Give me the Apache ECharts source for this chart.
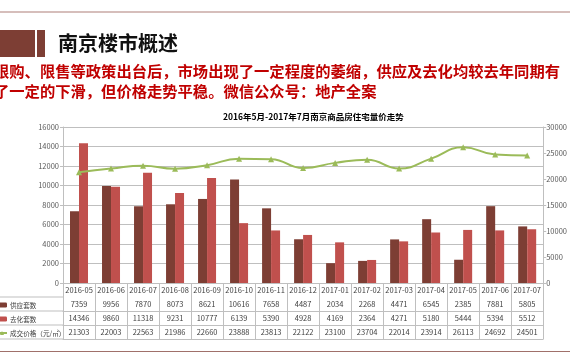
<!DOCTYPE html>
<html><head><meta charset="utf-8">
<script src="https://cdn.jsdelivr.net/npm/echarts@6/dist/echarts.min.js"></script>
<style>html,body{margin:0;padding:0;background:#fff}#c{width:570px;height:360px}</style>
</head><body><div id="c"></div>
<script>
const categories = ['2016-05','2016-06','2016-07','2016-08','2016-09','2016-10','2016-11','2016-12','2017-01','2017-02','2017-03','2017-04','2017-05','2017-06','2017-07'];
const supply = [7359, 9956, 7870, 8073, 8621, 10616, 7658, 4487, 2034, 2268, 4471, 6545, 2385, 7881, 5805];
const removal = [14346, 9860, 11318, 9231, 10777, 6139, 5390, 4928, 4169, 2364, 4271, 5180, 5444, 5394, 5512];
const price = [21303, 22003, 22563, 21986, 22660, 23888, 23813, 22122, 23100, 23704, 22014, 23914, 26113, 24692, 24501];
const seriesNames = ['供应套数', '去化套数', '成交价格（元/㎡）'];
const leftTicks = {min: 0, max: 16000, interval: 2000};
const rightTicks = {min: 0, max: 30000, interval: 5000};
const chartTitle = '2016年5月-2017年7月南京商品房住宅量价走势';
const pageTitle = '南京楼市概述';
const bodyLines = ['限购、限售等政策出台后，市场出现了一定程度的萎缩，供应及去化均较去年同期有', '了一定的下滑，但价格走势平稳。微信公众号：地产全案'];

const FONT = '"Noto Sans CJK SC", sans-serif';
const gridCol = '#bfbfbf';
const txt = '#404040';
const chart = echarts.init(document.getElementById('c'));

function tableAxis(data, offset, showLabel) {
  return {
    type: 'category', data: data.map(String), position: 'bottom', offset: offset,
    axisLine: {show: true, lineStyle: {color: gridCol, width: 1}},
    axisTick: {show: false},
    axisLabel: {show: showLabel, interval: 0, fontSize: 7.5, color: txt, margin: 3, fontFamily: FONT},
    splitLine: {show: false}
  };
}

chart.setOption({
  animation: false,
  title: {text: chartTitle, left: 223, top: 113, padding: 0, textStyle: {fontSize: 8.5, fontWeight: 'bold', color: '#000', fontFamily: FONT}},
  grid: {left: 63, right: 23, top: 127, bottom: 77},
  legend: {
    orient: 'vertical', left: -4, top: 300, padding: 0, itemWidth: 10, itemHeight: 5, itemGap: 4,
    textStyle: {fontSize: 6.6, color: txt, fontFamily: FONT, lineHeight: 10, padding: [0, 0, 0, -2]}, data: seriesNames
  },
  xAxis: [
    {
      type: 'category', data: categories, position: 'bottom',
      axisLine: {show: true, lineStyle: {color: gridCol}},
      axisTick: {show: true, interval: 0, length: 56, lineStyle: {color: gridCol}},
      axisLabel: {interval: 0, fontSize: 7.5, color: txt, margin: 3, fontFamily: FONT}
    },
    tableAxis(supply, 14, true),
    tableAxis(removal, 28, true),
    tableAxis(price, 42, true),
    tableAxis(categories, 56, false)
  ],
  yAxis: [
    {
      type: 'value', min: leftTicks.min, max: leftTicks.max, interval: leftTicks.interval,
      axisLine: {show: true, lineStyle: {color: gridCol}},
      axisTick: {show: true, length: 3, lineStyle: {color: gridCol}},
      axisLabel: {fontSize: 7.5, color: '#595959', margin: 4, fontFamily: FONT, formatter: v => String(v)},
      splitLine: {lineStyle: {color: gridCol}}
    },
    {
      type: 'value', min: rightTicks.min, max: rightTicks.max, interval: rightTicks.interval,
      axisLine: {show: true, lineStyle: {color: gridCol}},
      axisTick: {show: true, length: 3, lineStyle: {color: gridCol}},
      axisLabel: {fontSize: 7.5, color: '#595959', margin: 3, fontFamily: FONT, formatter: v => String(v)},
      splitLine: {show: false}
    }
  ],
  series: [
    {name: seriesNames[0], type: 'bar', data: supply, barWidth: 9, barGap: '0%', itemStyle: {color: '#7d3e34'}},
    {name: seriesNames[1], type: 'bar', data: removal, barWidth: 9, barGap: '0%', itemStyle: {color: '#c0504d'}},
    {name: seriesNames[2], type: 'line', yAxisIndex: 1, data: price, smooth: true, symbol: 'triangle', symbolSize: 6,
     lineStyle: {color: '#9bbb59', width: 2}, itemStyle: {color: '#9bbb59'}}
  ],
  graphic: [
    {type: 'line', shape: {x1: 0, y1: 12, x2: 570, y2: 12}, style: {stroke: '#c8a8a4', lineWidth: 1.5}},
    {type: 'line', shape: {x1: 0, y1: 351.5, x2: 570, y2: 351.5}, style: {stroke: '#a0706a', lineWidth: 1}},
    {type: 'rect', shape: {x: 0, y: 30, width: 35, height: 27}, style: {fill: '#7d3e34'}},
    {type: 'rect', shape: {x: 37, y: 30, width: 8, height: 27}, style: {fill: '#7d3e34'}},
    {type: 'text', left: 58, top: 33, style: {text: pageTitle, fontSize: 20, fontWeight: 'bold', fill: '#111', fontFamily: FONT}},
    {type: 'text', x: -6, y: 64, style: {text: bodyLines[0], fontSize: 15.3, fontWeight: 'bold', fill: '#c00000', fontFamily: FONT}},
    {type: 'text', x: -6, y: 84, style: {text: bodyLines[1], fontSize: 15.3, fontWeight: 'bold', fill: '#c00000', fontFamily: FONT}},
    {type: 'line', shape: {x1: 0, y1: 297, x2: 63, y2: 297}, style: {stroke: gridCol, lineWidth: 1}},
    {type: 'line', shape: {x1: 0, y1: 311, x2: 63, y2: 311}, style: {stroke: gridCol, lineWidth: 1}},
    {type: 'line', shape: {x1: 0, y1: 325, x2: 63, y2: 325}, style: {stroke: gridCol, lineWidth: 1}},
    {type: 'line', shape: {x1: 0, y1: 339, x2: 63, y2: 339}, style: {stroke: gridCol, lineWidth: 1}}
  ]
});
</script></body></html>
